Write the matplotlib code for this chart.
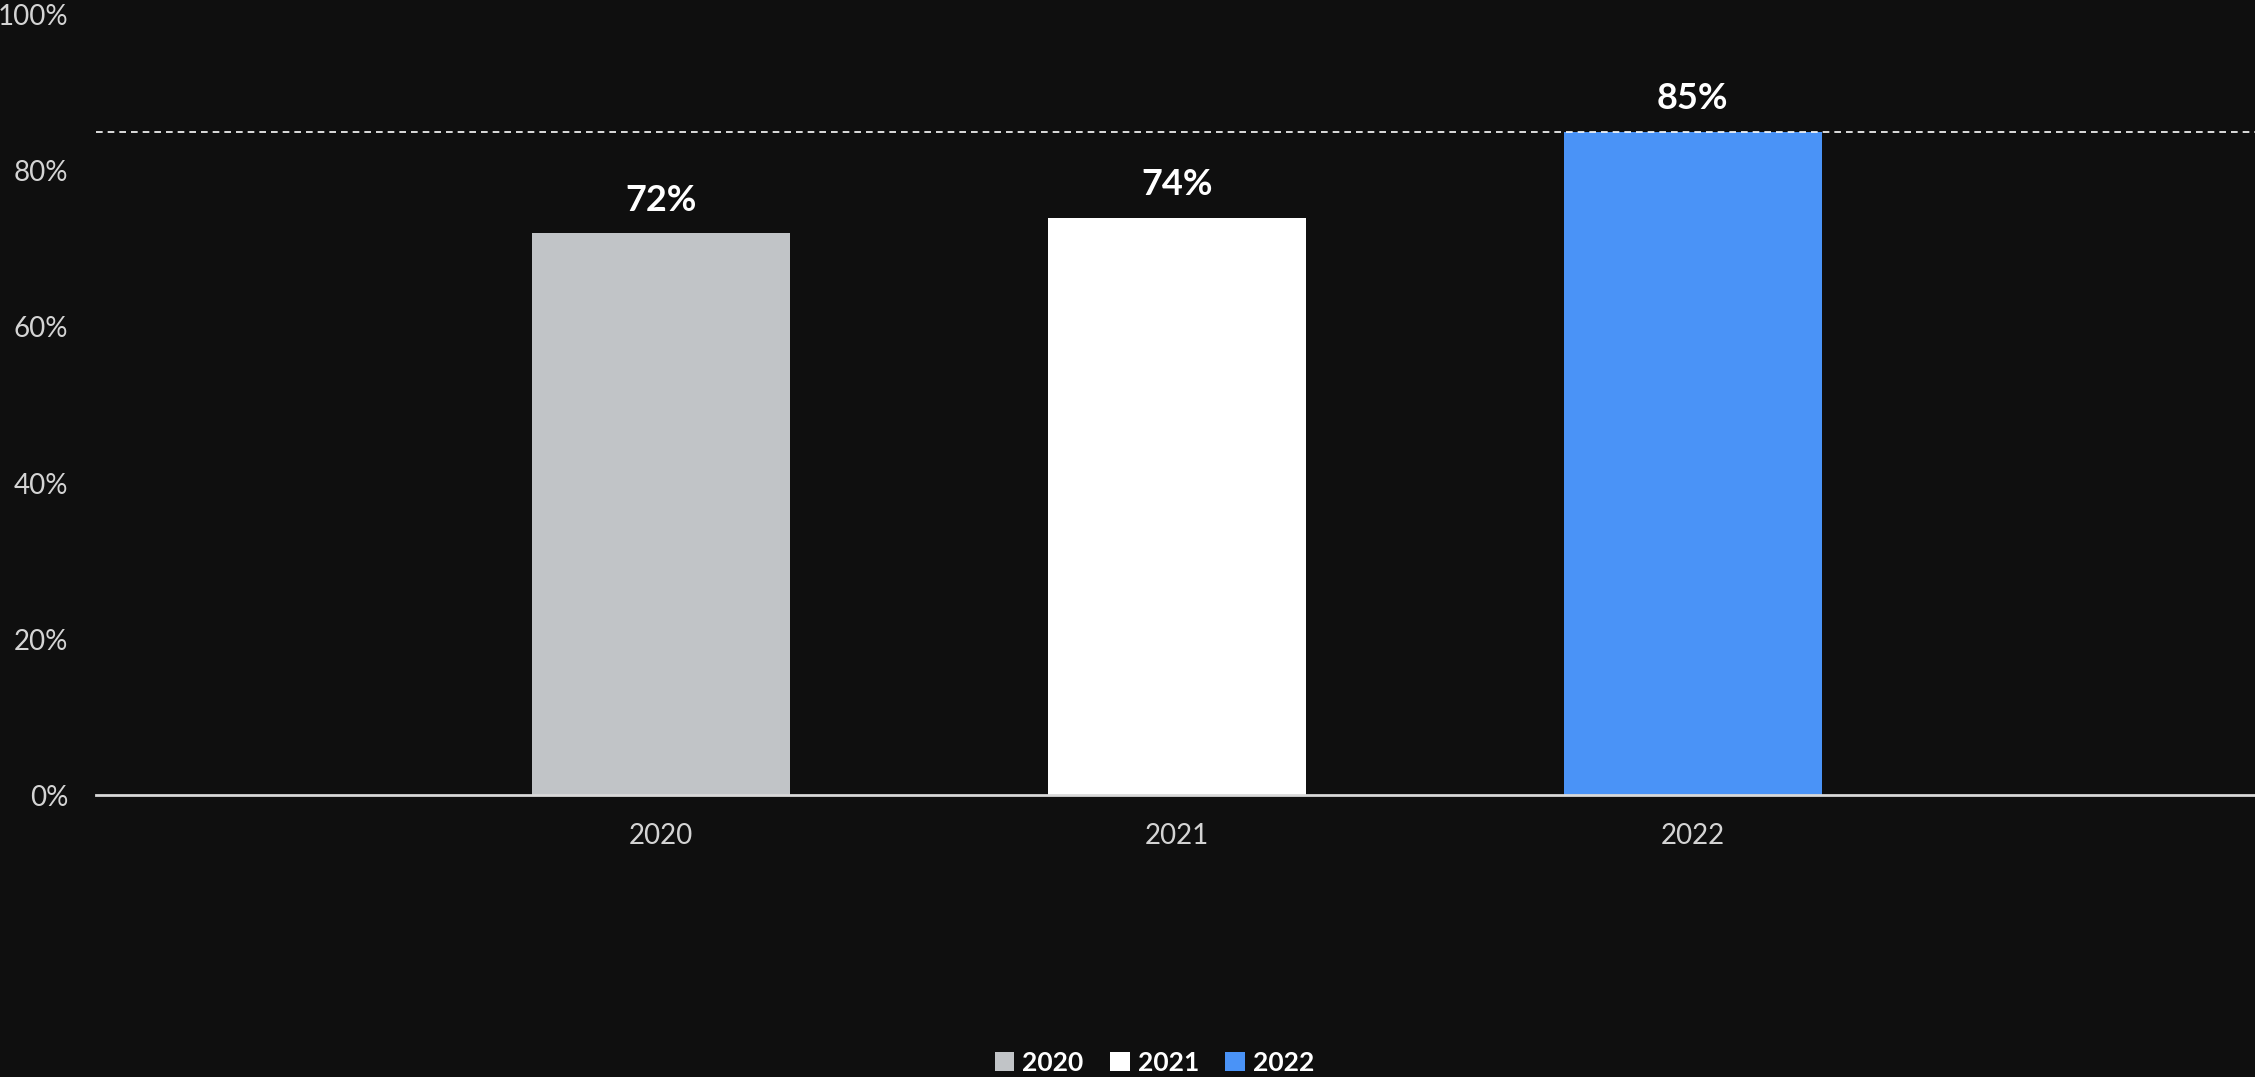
import matplotlib.pyplot as plt
from matplotlib.patches import Patch

# Share of respondents by year
years = ["2020", "2021", "2022"]
values = [72, 74, 85]
colors = ["#c1c4c7", "#ffffff", "#4a93f7"]
y_ticks = [0, 20, 40, 60, 80, 100]

bg = "#0f0f0f"
plt.rcParams['font.family'] = ['Lato', 'DejaVu Sans']

fig = plt.figure(figsize=(22.55, 10.77), dpi=100, facecolor=bg)
ax = fig.add_axes([0.0426, 0.2618, 0.9574, 0.7243], facecolor=bg)

x = range(len(years))
ax.bar(x, values, width=0.5, color=colors, zorder=2)

# value labels above each bar
for i, v in enumerate(values):
    ax.annotate(f"{v}%", (i, v), xytext=(0, 12), textcoords='offset points',
                ha='center', va='bottom', color='white', fontsize=26,
                fontweight='bold')

# reference line at the highest value
ax.axhline(max(values), color='white', lw=1.2, ls=(0, (4, 3)), zorder=3)

ax.set_xlim(-1.095, 3.09)
ax.set_ylim(0, 100)
ax.set_xticks(list(x))
ax.set_xticklabels(years)
ax.set_yticks(y_ticks)
ax.set_yticklabels([f"{t}%" for t in y_ticks])
ax.tick_params(axis='both', length=0, colors='#d4d4d4', labelsize=20)
ax.tick_params(axis='x', pad=20)
ax.tick_params(axis='y', pad=20)

for side in ['top', 'right', 'left']:
    ax.spines[side].set_visible(False)
ax.spines['bottom'].set_color('#d9d9d9')
ax.spines['bottom'].set_linewidth(2)

handles = [Patch(facecolor=c, label=y) for c, y in zip(colors, years)]
leg = fig.legend(handles=handles, loc='center', bbox_to_anchor=(0.512, 0.013),
                 ncol=3, frameon=False, handlelength=0.75,
                 handleheight=0.75, handletextpad=0.3, columnspacing=1.0,
                 labelcolor='white', prop={'weight': 'bold', 'size': 19})

fig.savefig('out.png', dpi=100, facecolor=bg)
